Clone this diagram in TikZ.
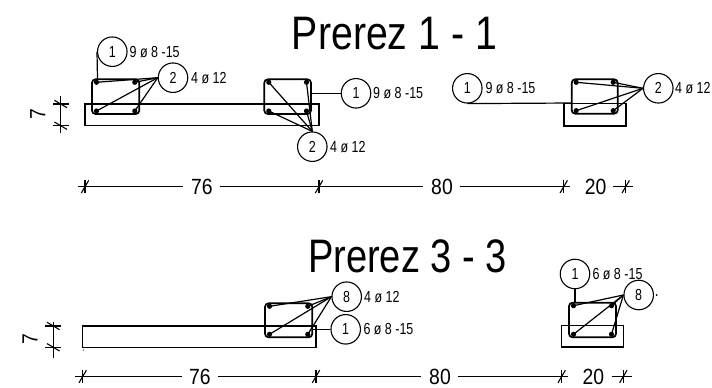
\documentclass[tikz,border=0pt]{standalone}
\usepackage{fontspec}
\setmainfont{Liberation Sans}
\newfontfamily\slimfont[FakeStretch=0.78]{Liberation Sans}
\newfontfamily\dimfont[FakeStretch=0.88]{Liberation Sans}
\newfontfamily\titlefont[FakeStretch=0.835]{Liberation Sans}
\newfontfamily\titlefontB[FakeStretch=0.81]{Liberation Sans}

\tikzset{
    mark circle/.style={circle, draw, line width=1.1pt, minimum size=29.5pt, inner sep=0pt, font=\slimfont\fontsize{16}{16}\selectfont},
    bar label/.style={anchor=west, inner sep=0pt, font=\slimfont\fontsize{16}{16}\selectfont},
    dim label/.style={inner sep=0pt, font=\dimfont\fontsize{22}{22}\selectfont},
    title label/.style={inner sep=0pt, font=\titlefont\fontsize{47}{47}\selectfont},
    title labelB/.style={inner sep=0pt, font=\titlefontB\fontsize{47}{47}\selectfont},
    slab/.style={draw, line width=1.1pt},
    stirrup/.style={draw, line width=1.7pt, rounded corners=3.5pt},
    leader/.style={line width=1.2pt},
    dim line/.style={line width=1.1pt},
}

% one section: stirrup box with four bars, coordinates named after the prefix #1
\newcommand{\stirrupbox}[5]{
    \draw[stirrup] (#2,#4) rectangle (#3,#5);
    \coordinate (#1a) at (#2+4.5,#4+3);
    \coordinate (#1b) at (#3-4.5,#4+3);
    \coordinate (#1c) at (#2+4.5,#5-3);
    \coordinate (#1d) at (#3-4.5,#5-3);
    \foreach \p in {a,b,c,d} {
        \fill (#1\p) circle (2.6);
    }
}
% dimension ticks, along x and along y
\newcommand{\dimtick}[1]{
    \draw[dim line] ([shift={(0,-6.5)}]#1) -- ([shift={(0,6.5)}]#1);
    \draw[dim line] ([shift={(-3.7,6.3)}]#1) -- ([shift={(3.7,-6.3)}]#1);
}
\newcommand{\sidetick}[1]{
    \draw[dim line] ([shift={(-8,0)}]#1) -- ([shift={(8,0)}]#1);
    \draw[dim line] ([shift={(-6.3,-3.7)}]#1) -- ([shift={(6.3,3.7)}]#1);
}

\begin{document}
\begin{tikzpicture}[x=1pt, y=-1pt]
    \useasboundingbox (0,0) rectangle (712,388);

    % Titles
    \node[title label] (titleA) at (394.5,33.7) {Prerez 1 - 1};
    \node[title labelB] (titleB) at (407.5,256) {Prerez 3 - 3};

    % Section 1 - 1, left part
    \draw[slab] (85,104) rectangle (319,125.7);
    \stirrupbox{p}{92}{139.3}{79.3}{114}
    \node[mark circle] (pOne) at (112.3,51.7) {1};
    \node[bar label] at (129.5,51.7) {9 ø 8 -15};
    \draw[leader] (pOne.west) -- (97.5,79.3);
    \node[mark circle] (pTwo) at (173,77.7) {2};
    \node[bar label] at (191,77.7) {4 ø 12};
    \foreach \p in {a,b,c,d} {
        \draw[leader] (p\p) -- (pTwo.west);
    }

    \stirrupbox{q}{264.3}{311}{79.3}{114}
    \node[mark circle] (qOne) at (356,93.3) {1};
    \node[bar label] at (373,93.3) {9 ø 8 -15};
    \draw[leader] (311,93.3) -- (qOne.west);
    \node[mark circle] (qTwo) at (312.3,146.7) {2};
    \node[bar label] at (330,146.7) {4 ø 12};
    \foreach \p in {a,b,c,d} {
        \draw[leader] (q\p) -- (qTwo.north);
    }

    % Section 1 - 1, right part
    \draw[slab] (564,103.3) rectangle (626,126);
    \stirrupbox{r}{571.7}{617.7}{79.3}{113.7}
    \node[mark circle] (rOne) at (467.3,88.3) {1};
    \node[bar label] at (485.3,88.3) {9 ø 8 -15};
    \draw[leader] (rOne.south) -- (571.7,103);
    \node[mark circle] (rTwo) at (658.3,88.3) {2};
    \node[bar label] at (675,88.3) {4 ø 12};
    \foreach \p in {a,b,c,d} {
        \draw[leader] (r\p) -- (rTwo.west);
    }

    % Section 3 - 3, left part
    \draw[slab] (82.7,326) rectangle (316,347.3);
    \fill (83.3,350) circle (0.6);
    \stirrupbox{s}{265}{312.3}{303.3}{337.3}
    \node[mark circle] (sEight) at (346.7,296.7) {8};
    \node[bar label] at (364,296.7) {4 ø 12};
    \node[mark circle] (sOne) at (345.7,329.3) {1};
    \node[bar label] at (363.3,329.3) {6 ø 8 -15};
    \draw[leader] (312.3,329.3) -- (sOne.west);
    \foreach \p in {a,b,c,d} {
        \draw[leader] (s\p) -- (sEight.west);
    }

    % Section 3 - 3, right part
    \draw[slab] (561.7,325.7) rectangle (623.3,347);
    \stirrupbox{t}{569}{616}{302.7}{337.3}
    \node[mark circle] (tOne) at (575,274) {1};
    \node[bar label] at (592.3,274) {6 ø 8 -15};
    \draw[leader] (tOne.south) -- (575,302.7);
    \node[mark circle] (tEight) at (638.7,295) {8};
    \fill (656.5,295) circle (1);
    \foreach \p in {a,b,c,d} {
        \draw[leader] (t\p) -- (tEight.west);
    }

    % Upper dimension line
    \coordinate (dA) at (85,186.7);
    \coordinate (dB) at (319,186.7);
    \coordinate (dC) at (563.7,186.7);
    \coordinate (dD) at (625.7,186.7);
    \node[dim label] (sixA) at (202,186.7) {76};
    \node[dim label] (eightA) at (442,186.7) {80};
    \node[dim label] (twentyA) at (595.7,186.7) {20};
    \foreach \t in {dA,dB,dC,dD} {
        \dimtick{\t}
    }
    \draw[dim line] (77.5,186.7) -- (183,186.7);
    \draw[dim line] (220,186.7) -- (423,186.7);
    \draw[dim line] (460,186.7) -- (570,186.7);
    \draw[dim line] (613,186.7) -- (633,186.7);

    % Lower dimension line
    \coordinate (eA) at (82.7,376.5);
    \coordinate (eB) at (316,376.5);
    \coordinate (eC) at (561.7,376.5);
    \coordinate (eD) at (623.3,376.5);
    \node[dim label] (sixB) at (200,376.5) {76};
    \node[dim label] (eightB) at (440,376.5) {80};
    \node[dim label] (twentyB) at (593.3,376.5) {20};
    \foreach \t in {eA,eB,eC,eD} {
        \dimtick{\t}
    }
    \draw[dim line] (75,376.5) -- (181.7,376.5);
    \draw[dim line] (218.3,376.5) -- (421,376.5);
    \draw[dim line] (458,376.5) -- (568,376.5);
    \draw[dim line] (611.7,376.5) -- (631.7,376.5);

    % Slab thickness
    \coordinate (sA) at (60.7,104);
    \coordinate (sB) at (60.7,125.7);
    \coordinate (sC) at (53.3,326);
    \coordinate (sD) at (53.3,347.3);
    \foreach \t in {sA,sB,sC,sD} {
        \sidetick{\t}
    }
    \draw[dim line] (60.7,96) -- (60.7,133);
    \draw[dim line] (53.3,321.7) -- (53.3,358);
    \node[dim label, rotate=90] (sevenA) at (37.7,114) {7};
    \node[dim label, rotate=90] (sevenB) at (30,339) {7};
\end{tikzpicture}
\end{document}
